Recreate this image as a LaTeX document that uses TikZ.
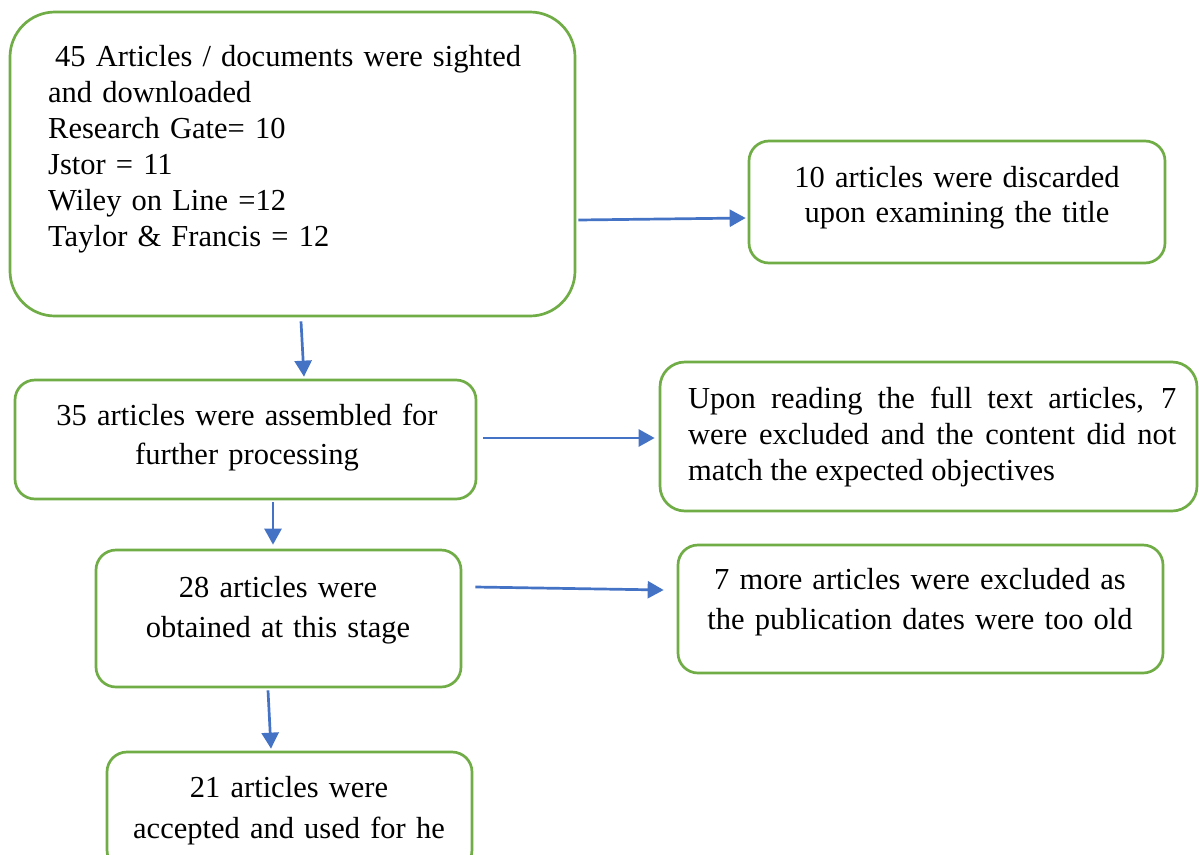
\documentclass[tikz,border=0pt]{standalone}
\usepackage{fontspec}
\setmainfont{Liberation Serif}
\usetikzlibrary{arrows.meta}
\definecolor{boxgreen}{HTML}{70AD47}
\definecolor{arrblue}{HTML}{4472C4}
\tikzset{
  box/.style={draw=boxgreen, line width=2.7pt, rounded corners=20pt, inner sep=0pt},
  txt/.style={inner sep=0pt, anchor=north, execute at begin node=\strut},
  arr/.style={draw=arrblue, line width=2.7pt, -{Triangle[length=16pt,width=17pt]}}
}
\begin{document}
\begin{tikzpicture}[x=1pt,y=-1pt]
\clip (0,0) rectangle (1199,854);
\fill[white] (0,0) rectangle (1199,854);
% boxes
\node[box, rounded corners=45pt, minimum width=565pt, minimum height=304pt] (b1) at (292.5,164) {};
\node[box, minimum width=416pt, minimum height=122pt] (b2) at (957,202) {};
\node[box, minimum width=461pt, minimum height=119pt] (b3) at (245.5,439.5) {};
\node[box, rounded corners=25pt, minimum width=537pt, minimum height=149pt] (b4) at (928.5,436.5) {};
\node[box, minimum width=365pt, minimum height=137pt] (b5) at (278.5,618.5) {};
\node[box, minimum width=485pt, minimum height=128pt] (b6) at (920.5,609) {};
\node[box, minimum width=365pt, minimum height=118pt] (b7) at (289.5,811) {};
% texts
\node[txt, anchor=north west, text width=540pt, align=left, font=\fontsize{30.5}{36}\selectfont] (t1) at (48,40.8)
  {\hspace{7pt}45 Articles / documents were sighted\\and downloaded\\Research Gate= 10\\Jstor = 11\\Wiley on Line =12\\Taylor \& Francis = 12};
\node[txt, text width=410pt, align=center, font=\fontsize{30.5}{35}\selectfont] (t2) at (957,162.5)
  {10 articles were discarded\\upon examining the title};
\node[txt, text width=450pt, align=center, font=\fontsize{30.5}{39}\selectfont] (t3) at (247,397.7)
  {35 articles were assembled for\\further processing};
\node[txt, anchor=north west, text width=488pt, align=justify, font=\fontsize{30.5}{36}\selectfont] (t4) at (688,383)
  {Upon reading the full text articles, 7\linebreak were excluded and the content did not\linebreak match the expected objectives};
\node[txt, text width=360pt, align=center, font=\fontsize{30.5}{40}\selectfont] (t5) at (278,569)
  {28 articles were\\obtained at this stage};
\node[txt, text width=480pt, align=center, font=\fontsize{30.5}{40}\selectfont] (t6) at (920,561)
  {7 more articles were excluded as\\the publication dates were too old};
\node[txt, text width=360pt, align=center, font=\fontsize{30.5}{41}\selectfont] (t7) at (289,768.3)
  {21 articles were\\accepted and used for he};
% connectors
\draw[arr] ([shift={(2pt,-56pt)}]b1.east) -- ([shift={(-2pt,-16pt)}]b2.west);
\draw[arr] ([shift={(8.5pt,-4pt)}]b1.south) -- ([shift={(58.5pt,2pt)}]b3.north);
\draw[arr] ([shift={(6pt,1.5pt)}]b3.east) -- ([shift={(-4pt,-1.5pt)}]b4.west);
\draw[arr] ([shift={(27.5pt,-2pt)}]b3.south) -- ([shift={(-5.5pt,4pt)}]b5.north);
\draw[arr] ([shift={(13pt,31.5pt)}]b5.east) -- ([shift={(-13pt,19pt)}]b6.west);
\draw[arr] ([shift={(-10.5pt,-2pt)}]b5.south) -- ([shift={(-18.5pt,2pt)}]b7.north);
\end{tikzpicture}
\end{document}
